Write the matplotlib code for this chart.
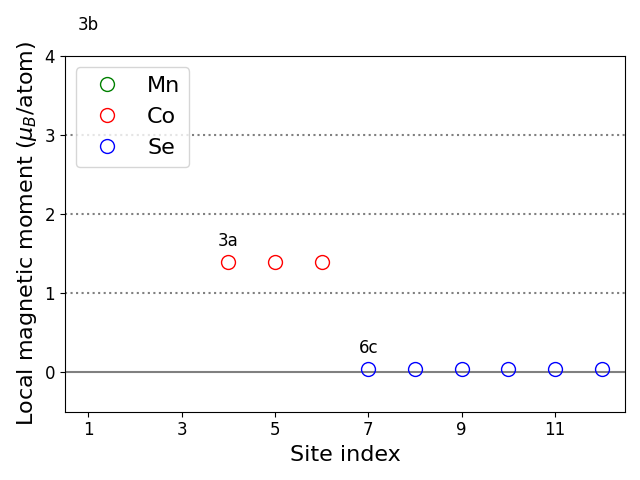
import numpy as np
from matplotlib import pyplot as plt

# site indices and local moments
mn_sites = [1, 2, 3]
mn_moment = [4.13, 4.13, 4.13]
co_sites = [4, 5, 6]
co_moment = [1.40, 1.40, 1.40]
se_sites = [7, 8, 9, 10, 11, 12]
se_moment = [0.04, 0.04, 0.04, 0.04, 0.04, 0.04]

wyckoff = ['3b', '3a', '6c']
wyckoff_x = [1, 4, 7]
wyckoff_y = [4.13, 1.40, 0.04]

fig, ax = plt.subplots(figsize=(6.4, 4.8), dpi=100)

for y in [1, 2, 3]:
    ax.axhline(y, color='gray', linestyle=':', linewidth=1.5, zorder=0)
ax.axhline(0, color='gray', linestyle='-', linewidth=1.5, zorder=0)

ax.plot(mn_sites, mn_moment, 'o', mfc='none', mec='green', ms=10, label='Mn')
ax.plot(co_sites, co_moment, 'o', mfc='none', mec='red', ms=10, label='Co')
ax.plot(se_sites, se_moment, 'o', mfc='none', mec='blue', ms=10, label='Se')

for lab, x, y in zip(wyckoff, wyckoff_x, wyckoff_y):
    ax.text(x, y + 0.15, lab, ha='center', va='bottom', fontsize=12)

ax.set_xlim(0.5, 12.5)
ax.set_ylim(-0.5, 4)
ax.set_xticks([1, 3, 5, 7, 9, 11])
ax.set_yticks([0, 1, 2, 3, 4])
ax.tick_params(labelsize=12)
ax.set_xlabel('Site index', fontsize=16)
ax.set_ylabel(r'Local magnetic moment ($\mu_B$/atom)', fontsize=16)
ax.legend(fontsize=16, loc='upper left')

fig.tight_layout()
fig.savefig('out.png')
